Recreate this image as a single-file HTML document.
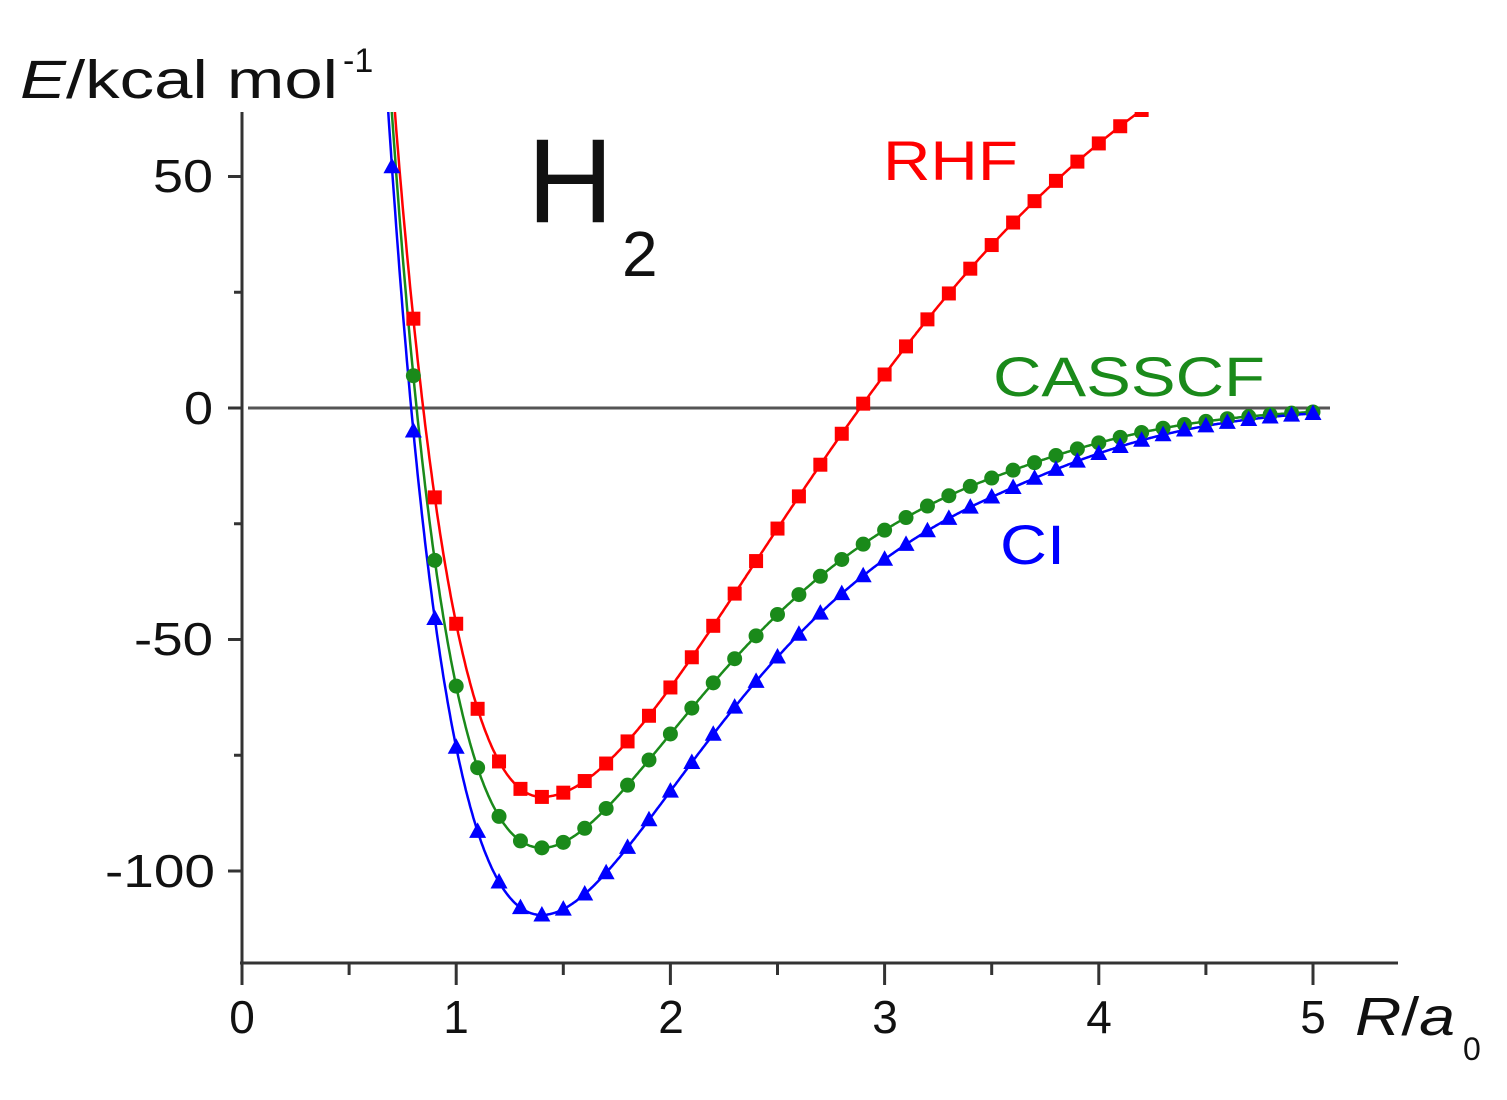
<!DOCTYPE html>
<html><head><meta charset="utf-8"><style>
html,body{margin:0;padding:0;background:#fff;}
svg{display:block;font-family:"Liberation Sans",Arial,sans-serif;}
</style></head><body>
<svg id="s" width="1507" height="1100" viewBox="0 0 1507 1100" xmlns="http://www.w3.org/2000/svg">
<defs><clipPath id="c"><rect x="243" y="112" width="1160" height="850"/></clipPath></defs>
<g stroke="#333" stroke-width="3" fill="none">
<line x1="242" y1="112" x2="242" y2="965"/>
<line x1="240" y1="963" x2="1398" y2="963"/>
<line x1="248" y1="408" x2="1330" y2="408" stroke="#555"/>
</g>
<g id="ticks" stroke="#333" stroke-width="3"></g>
<g font-size="46" fill="#111" lengthAdjust="spacingAndGlyphs">
<text x="153" y="192" textLength="60" lengthAdjust="spacingAndGlyphs">50</text>
<text x="184" y="424" textLength="29" lengthAdjust="spacingAndGlyphs">0</text>
<text x="134" y="655" textLength="79" lengthAdjust="spacingAndGlyphs">-50</text>
<text x="105" y="887" textLength="110" lengthAdjust="spacingAndGlyphs">-100</text>
<text x="242" y="1033" text-anchor="middle">0</text>
<text x="456" y="1033" text-anchor="middle">1</text>
<text x="671" y="1033" text-anchor="middle">2</text>
<text x="885" y="1033" text-anchor="middle">3</text>
<text x="1099" y="1033" text-anchor="middle">4</text>
<text x="1313" y="1033" text-anchor="middle">5</text>
</g>
<text x="20" y="98" font-size="54" fill="#111" textLength="318" lengthAdjust="spacingAndGlyphs"><tspan font-style="italic">E</tspan>/kcal mol</text>
<text x="343" y="72" font-size="34" fill="#111">-1</text>
<text x="1355" y="1035" font-size="54" fill="#111" textLength="100" lengthAdjust="spacingAndGlyphs"><tspan font-style="italic">R</tspan>/<tspan font-style="italic">a</tspan></text>
<text x="1463" y="1060" font-size="32" fill="#111">0</text>
<text x="527" y="222" font-size="120" fill="#111">H</text>
<text x="622" y="276" font-size="64" fill="#111">2</text>
<text x="883" y="180" font-size="56" fill="#f00" textLength="135" lengthAdjust="spacingAndGlyphs">RHF</text>
<text x="993" y="396" font-size="56" fill="#1a8a1a" textLength="272" lengthAdjust="spacingAndGlyphs">CASSCF</text>
<text x="1000" y="564" font-size="56" fill="#00f" textLength="65" lengthAdjust="spacingAndGlyphs">CI</text>
<g id="curves" clip-path="url(#c)"></g>
</svg>
<script>
var NS="http://www.w3.org/2000/svg";
function X(r){return 242+214.2*r;}
function Y(e){return 408-4.63*e;}
function tail(r){return r>3.5?Math.exp(-0.5*(r-3.5)*(r-3.5)):1;}
function ci(r){var t=Math.exp(-1.136*(r-1.4));return 109.5*((1-t)*(1-t)-1)*tail(r);}
function cas(r){var t=Math.exp(-1.185*(r-1.4));return 95*((1-t)*(1-t)-1)*tail(r);}
function rhf(r){var x=r-1.4,a=x<0?0.95:0.7,t=Math.exp(-a*x);return -84+(x<0?175:201)*(1-t)*(1-t);}
function el(n,a,p){var e=document.createElementNS(NS,n);for(var k in a)e.setAttribute(k,a[k]);p.appendChild(e);return e;}
var tk=document.getElementById("ticks");
for(var i=0;i<=10;i++){var x=X(i*0.5);el("line",{x1:x,y1:963,x2:x,y2:i%2?975:985},tk);}
for(var v=-100;v<=50;v+=25){var y=Y(v);el("line",{x1:v%50?234:228,y1:y,x2:242,y2:y},tk);}
var g=document.getElementById("curves");
var S=[[rhf,"#f00",0.8,4.2,"sq"],[cas,"#1a8a1a",0.8,5.0,"ci"],[ci,"#00f",0.7,5.0,"tr"]];
S.forEach(function(s){
 var d="";for(var r=0.68;r<=5.001;r+=0.005){var e=s[0](r);if(e>80)e=80;d+=(d?"L":"M")+X(r).toFixed(1)+","+Y(e).toFixed(1);}
 el("path",{d:d,stroke:s[1],"stroke-width":2.5,fill:"none"},g);
});
S.forEach(function(s){
 for(var k=Math.round(s[2]*10);k<=Math.round(s[3]*10);k++){var r=k/10,x=X(r),y=Y(s[0](r));
  if(s[4]=="sq")el("rect",{x:x-7,y:y-7,width:14,height:14,fill:s[1]},g);
  else if(s[4]=="ci")el("circle",{cx:x,cy:y,r:7.5,fill:s[1]},g);
  else el("polygon",{points:(x)+","+(y-9)+" "+(x-8.5)+","+(y+6.5)+" "+(x+8.5)+","+(y+6.5),fill:s[1]},g);}
});
</script>
</body></html>
